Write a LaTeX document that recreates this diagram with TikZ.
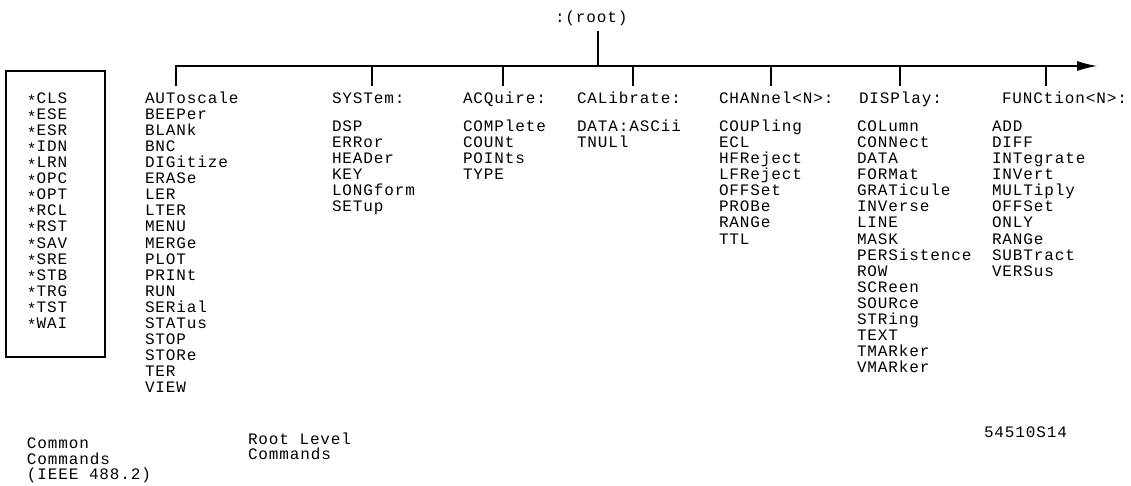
\documentclass[tikz,border=0pt]{standalone}
\usepackage{fontspec}
\newfontfamily\hpfont[LetterSpace=5.5]{Liberation Mono}
\usetikzlibrary{arrows.meta}
\newcommand\cstar{\raisebox{-0.35ex}{*}}
\begin{document}
\begin{tikzpicture}[x=1pt,y=-1pt,
  every node/.style={inner sep=0pt,outer sep=0pt},
  cmd/.style={anchor=base west,font=\hpfont\fontsize{16}{16}\selectfont},
  wire/.style={line width=1.1pt},
  cbox/.style={draw,line width=1.1pt,anchor=north west,minimum width=99pt,minimum height=286pt}]
\useasboundingbox (0,0) rectangle (1131,486);

% root
\node[cmd] (root) at (555,23) {:(root)};
\coordinate (rt) at (598,31);
\coordinate (rj) at (598,66);
\draw[wire] (rt) -- (rj);

% bus
\coordinate (tA) at (176,86);
\coordinate (bL) at (176,66);
\coordinate (bR) at (1097,66);
\draw[wire,-{Latex[length=20pt,width=10pt]}] (tA) -- (bL) -- (bR);
\foreach \x in {372,503,633,771,900,1046}{
  \coordinate (up\x) at (\x,66);
  \coordinate (dn\x) at (\x,86);
  \draw[wire] (up\x) -- (dn\x);
}

% common commands box
\node[cbox] (box) at (6,71) {};
\foreach \t [count=\i from 0] in {CLS,ESE,ESR,IDN,LRN,OPC,OPT,RCL,RST,SAV,SRE,STB,TRG,TST,WAI}
  \node[cmd] (c\i) at (27,{104+16*\i}) {\cstar\t};

% root level commands
\foreach \t [count=\i from 0] in {AUToscale,BEEPer,BLANk,BNC,DIGitize,ERASe,LER,LTER,MENU,MERGe,PLOT,PRINt,RUN,SERial,STATus,STOP,STORe,TER,VIEW}
  \node[cmd] (r\i) at (145,{104+16*\i}) {\t};

% headers
\node[cmd] (hsys) at (332,104) {SYSTem:};
\node[cmd] (hacq) at (463,104) {ACQuire:};
\node[cmd] (hcal) at (577,104) {CALibrate:};
\node[cmd] (hchan) at (719,104) {CHANnel<N>:};
\node[cmd] (hdisp) at (859,104) {DISPlay:};
\node[cmd] (hfunc) at (1002,104) {FUNCtion<N>:};

\foreach \t [count=\i from 0] in {DSP,ERRor,HEADer,KEY,LONGform,SETup}
  \node[cmd] (s\i) at (332,{132+16*\i}) {\t};
\foreach \t [count=\i from 0] in {COMPlete,COUNt,POINts,TYPE}
  \node[cmd] (a\i) at (463,{132+16*\i}) {\t};
\foreach \t [count=\i from 0] in {DATA:ASCii,TNULl}
  \node[cmd] (k\i) at (577,{132+16*\i}) {\t};
\foreach \t [count=\i from 0] in {COUPling,ECL,HFReject,LFReject,OFFSet,PROBe,RANGe,TTL}
  \node[cmd] (h\i) at (719,{132+16*\i}) {\t};
\foreach \t [count=\i from 0] in {COLumn,CONNect,DATA,FORMat,GRATicule,INVerse,LINE,MASK,PERSistence,ROW,SCReen,SOURce,STRing,TEXT,TMARker,VMARker}
  \node[cmd] (d\i) at (857,{132+16*\i}) {\t};
\foreach \t [count=\i from 0] in {ADD,DIFF,INTegrate,INVert,MULTiply,OFFSet,ONLY,RANGe,SUBTract,VERSus}
  \node[cmd] (f\i) at (992,{132+16*\i}) {\t};

% captions
\node[cmd] (cap1) at (27,448) {Common};
\node[cmd] (cap2) at (27,464) {Commands};
\node[cmd] (cap3) at (27,479) {(IEEE 488.2)};
\node[cmd] (cap4) at (248,444) {Root Level};
\node[cmd] (cap5) at (248,459) {Commands};
\node[cmd] (fig) at (984,437) {54510S14};
\end{tikzpicture}
\end{document}
